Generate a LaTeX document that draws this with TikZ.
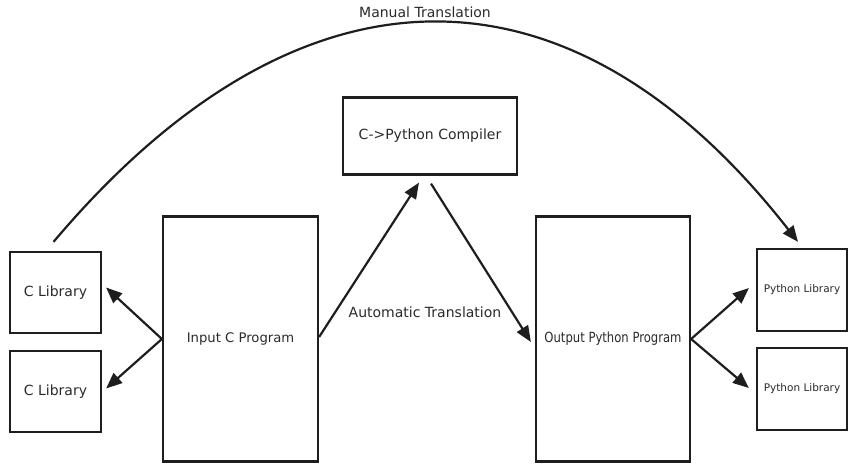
\documentclass[tikz,border=0pt]{standalone}
\usepackage{fontspec}
\setmainfont{DejaVu Sans}
\newfontfamily\condfont{DejaVu Sans}[FakeStretch=0.83]
\usetikzlibrary{arrows.meta}
\definecolor{ink}{HTML}{1E1E1E}
\definecolor{txt}{HTML}{2A2A2A}
\begin{document}
\begin{tikzpicture}[x=1pt,y=-1pt,
  box/.style={draw=ink,line width=2.2pt,inner sep=0pt,text=txt,font=\fontsize{14}{16}\selectfont},
  conn/.style={draw=ink,line width=2.2pt,-{Triangle[length=16pt,width=13pt]}},
  lbl/.style={text=txt,inner sep=0pt,font=\fontsize{14}{16}\selectfont}]
\useasboundingbox (0,0) rectangle (850,466);
\node[box,minimum width=91pt,minimum height=81pt] (clib1) at (55.5,292.5) {C Library};
\node[box,minimum width=91pt,minimum height=81pt] (clib2) at (55.5,391.5) {C Library};
\node[box,minimum width=155pt,minimum height=245pt,font=\fontsize{13.2}{16}\selectfont] (inC) at (240.5,339) {Input C Program};
\node[box,minimum width=174pt,minimum height=77pt] (comp) at (430,136) {C->Python Compiler};
\node[box,minimum width=154pt,minimum height=245pt,font=\condfont\fontsize{14}{16}\selectfont] (outP) at (613,339) {Output Python Program};
\node[box,minimum width=90pt,minimum height=82pt,font=\fontsize{10.5}{12}\selectfont] (plib1) at (802,290) {Python Library};
\node[box,minimum width=90pt,minimum height=82pt,font=\fontsize{10.5}{12}\selectfont] (plib2) at (802,389) {Python Library};
\node[lbl] (auto) at (425,312) {Automatic Translation};
\node[lbl] (manual) at (425,12) {Manual Translation};
\coordinate (mstart) at ([shift={(-2,-9)}]clib1.north);
\coordinate (mend) at ([shift={(-4,-6)}]plib1.north);
\draw[conn] (mstart) .. controls (300,-50) and (570,-50) .. (mend);
\draw[conn] (inC.west) -- ([shift={(4,-5)}]clib1.east);
\draw[conn] (inC.west) -- ([shift={(4,-3)}]clib2.east);
\draw[conn] ([yshift=2pt]inC.east) -- ([shift={(-11,7)}]comp.south);
\draw[conn] ([shift={(1,8)}]comp.south) -- ([shift={(-4,3)}]outP.west);
\draw[conn] (outP.east) -- ([shift={(-7,-2)}]plib1.west);
\draw[conn] (outP.east) -- ([shift={(-7,-1)}]plib2.west);
\end{tikzpicture}
\end{document}
